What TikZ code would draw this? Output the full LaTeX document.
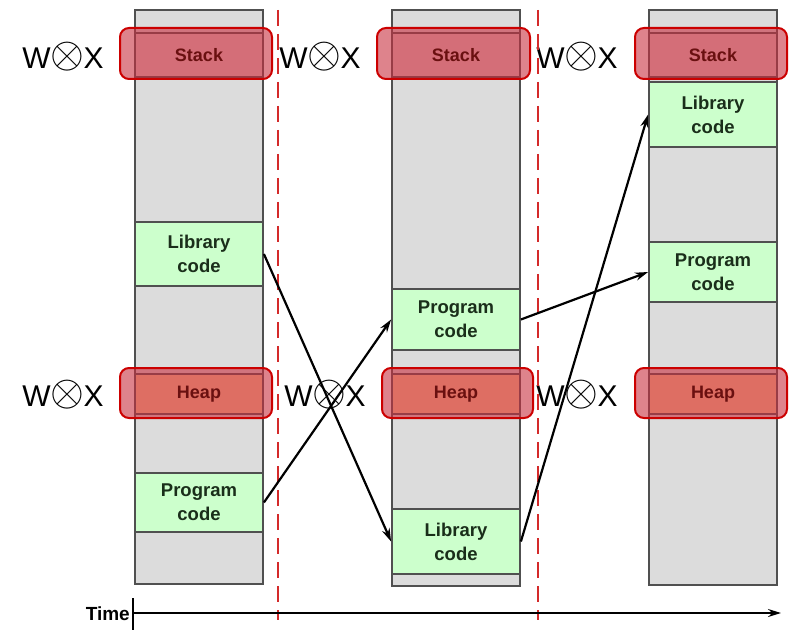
\documentclass[tikz,border=0pt]{standalone}
\usepackage{fontspec}
\setmainfont{Liberation Sans}
\usetikzlibrary{arrows.meta}
\definecolor{colgray}{HTML}{DCDCDC}
\definecolor{colborder}{HTML}{505050}
\definecolor{codegreen}{HTML}{CCFFCC}
\definecolor{codetext}{HTML}{1A2E1A}
\definecolor{stackband}{HTML}{E6CCCC}
\definecolor{heapband}{HTML}{FFCC99}
\definecolor{ovfill}{HTML}{C83040}
\definecolor{ovdraw}{HTML}{CC0000}
\definecolor{bandtext}{HTML}{6A1010}
\definecolor{dashred}{HTML}{D42A2A}
\begin{document}
\begin{tikzpicture}[x=1pt,y=-1pt,
  colbox/.style={draw=colborder, fill=colgray, line width=1.8pt, minimum width=128pt, inner sep=0pt},
  codebox/.style={draw=colborder, fill=codegreen, line width=1.8pt, minimum width=128pt, inner sep=0pt, align=center, font=\bfseries\fontsize{18.5}{24}\selectfont, text=codetext},
  bandbox/.style={draw=colborder, line width=1.8pt, minimum width=128pt, inner sep=0pt},
  ovbox/.style={draw=ovdraw, fill=ovfill, fill opacity=0.6, draw opacity=1, rounded corners=9pt, line width=2pt, inner sep=0pt},
  bandlabel/.style={font=\bfseries\fontsize{18}{20}\selectfont, text=bandtext},
  wx/.style={font=\fontsize{30}{34}\selectfont, inner sep=0pt},
  link/.style={line width=2.2pt, -{Stealth[length=13pt,width=8pt]}},
  sep/.style={draw=dashred, line width=2.5pt, dash pattern=on 16pt off 8pt}
]
\useasboundingbox (0,0) rectangle (790,631);
\newcommand{\wxtext}{W\hspace{-0.5pt}\raisebox{0.5pt}{\fontsize{24.88}{25}\selectfont\scalebox{1.75}{$\otimes$}}\hspace{-0.5pt}X}

% columns
\node[colbox, minimum height=574pt] (col1) at (199,297) {};
\node[colbox, minimum height=576pt] (col2) at (456,298) {};
\node[colbox, minimum height=575pt] (col3) at (713,297.5) {};

% stack and heap bands
\node[bandbox, fill=stackband, minimum height=44pt] (sb1) at (199,55) {};
\node[bandbox, fill=stackband, minimum height=44pt] (sb2) at (456,55) {};
\node[bandbox, fill=stackband, minimum height=44pt] (sb3) at (713,55) {};
\node[bandbox, fill=heapband, minimum height=40pt] (hb1) at (199,394) {};
\node[bandbox, fill=heapband, minimum height=40pt] (hb2) at (456,394) {};
\node[bandbox, fill=heapband, minimum height=40pt] (hb3) at (713,394) {};

% code boxes
\node[codebox, minimum height=64pt] (lib1) at (199,254) {Library\\code};
\node[codebox, minimum height=59pt] (prog1) at (199,502.5) {Program\\code};
\node[codebox, minimum height=61pt] (prog2) at (456,319.5) {Program\\code};
\node[codebox, minimum height=65pt] (lib2) at (456,541.5) {Library\\code};
\node[codebox, minimum height=65pt] (lib3) at (713,114.5) {Library\\code};
\node[codebox, minimum height=60pt] (prog3) at (713,272) {Program\\code};

% highlight overlays
\node[ovbox, minimum width=152pt, minimum height=51pt] (os1) at (196,53.5) {};
\node[ovbox, minimum width=153pt, minimum height=51pt] (os2) at (453.5,53.5) {};
\node[ovbox, minimum width=152pt, minimum height=51pt] (os3) at (711,53.5) {};
\node[ovbox, minimum width=152pt, minimum height=50pt] (oh1) at (196,393) {};
\node[ovbox, minimum width=151pt, minimum height=50pt] (oh2) at (457.5,393) {};
\node[ovbox, minimum width=152pt, minimum height=50pt] (oh3) at (711,393) {};

% band labels
\node[bandlabel] (st1) at (sb1) {Stack};
\node[bandlabel] (st2) at (sb2) {Stack};
\node[bandlabel] (st3) at (sb3) {Stack};
\node[bandlabel] (hp1) at (hb1) {Heap};
\node[bandlabel] (hp2) at (hb2) {Heap};
\node[bandlabel] (hp3) at (hb3) {Heap};

% W (x) X labels
\node[wx] (wxs1) at (63,57) {\wxtext};
\node[wx] (wxs2) at (320,57) {\wxtext};
\node[wx] (wxs3) at (577,57) {\wxtext};
\node[wx] (wxh1) at (63,395) {\wxtext};
\node[wx] (wxh2) at (325,395) {\wxtext};
\node[wx] (wxh3) at (577,395) {\wxtext};

% dashed separators
\coordinate (d1t) at (278,10);
\coordinate (d1b) at (278,620);
\coordinate (d2t) at (538,10);
\coordinate (d2b) at (538,620);
\draw[sep] (d1t) -- (d1b);
\draw[sep] (d2t) -- (d2b);

% time axis
\node[font=\bfseries\fontsize{19}{21}\selectfont, anchor=east, inner sep=0pt] (time) at (130,614) {Time};
\coordinate (tickt) at (133,598);
\coordinate (tickb) at (133,630);
\coordinate (axs) at (133,613);
\coordinate (axe) at (781,613);
\draw[line width=2pt] (tickt) -- (tickb);
\draw[line width=2pt, -{Stealth[length=13pt,width=8pt]}] (axs) -- (axe);

% relocation arrows
\draw[link] (lib1.east) -- (lib2.west);
\draw[link] (prog1.east) -- (prog2.west);
\draw[link] (prog2.east) -- (prog3.west);
\draw[link] (lib2.east) -- (lib3.west);
\end{tikzpicture}
\end{document}
